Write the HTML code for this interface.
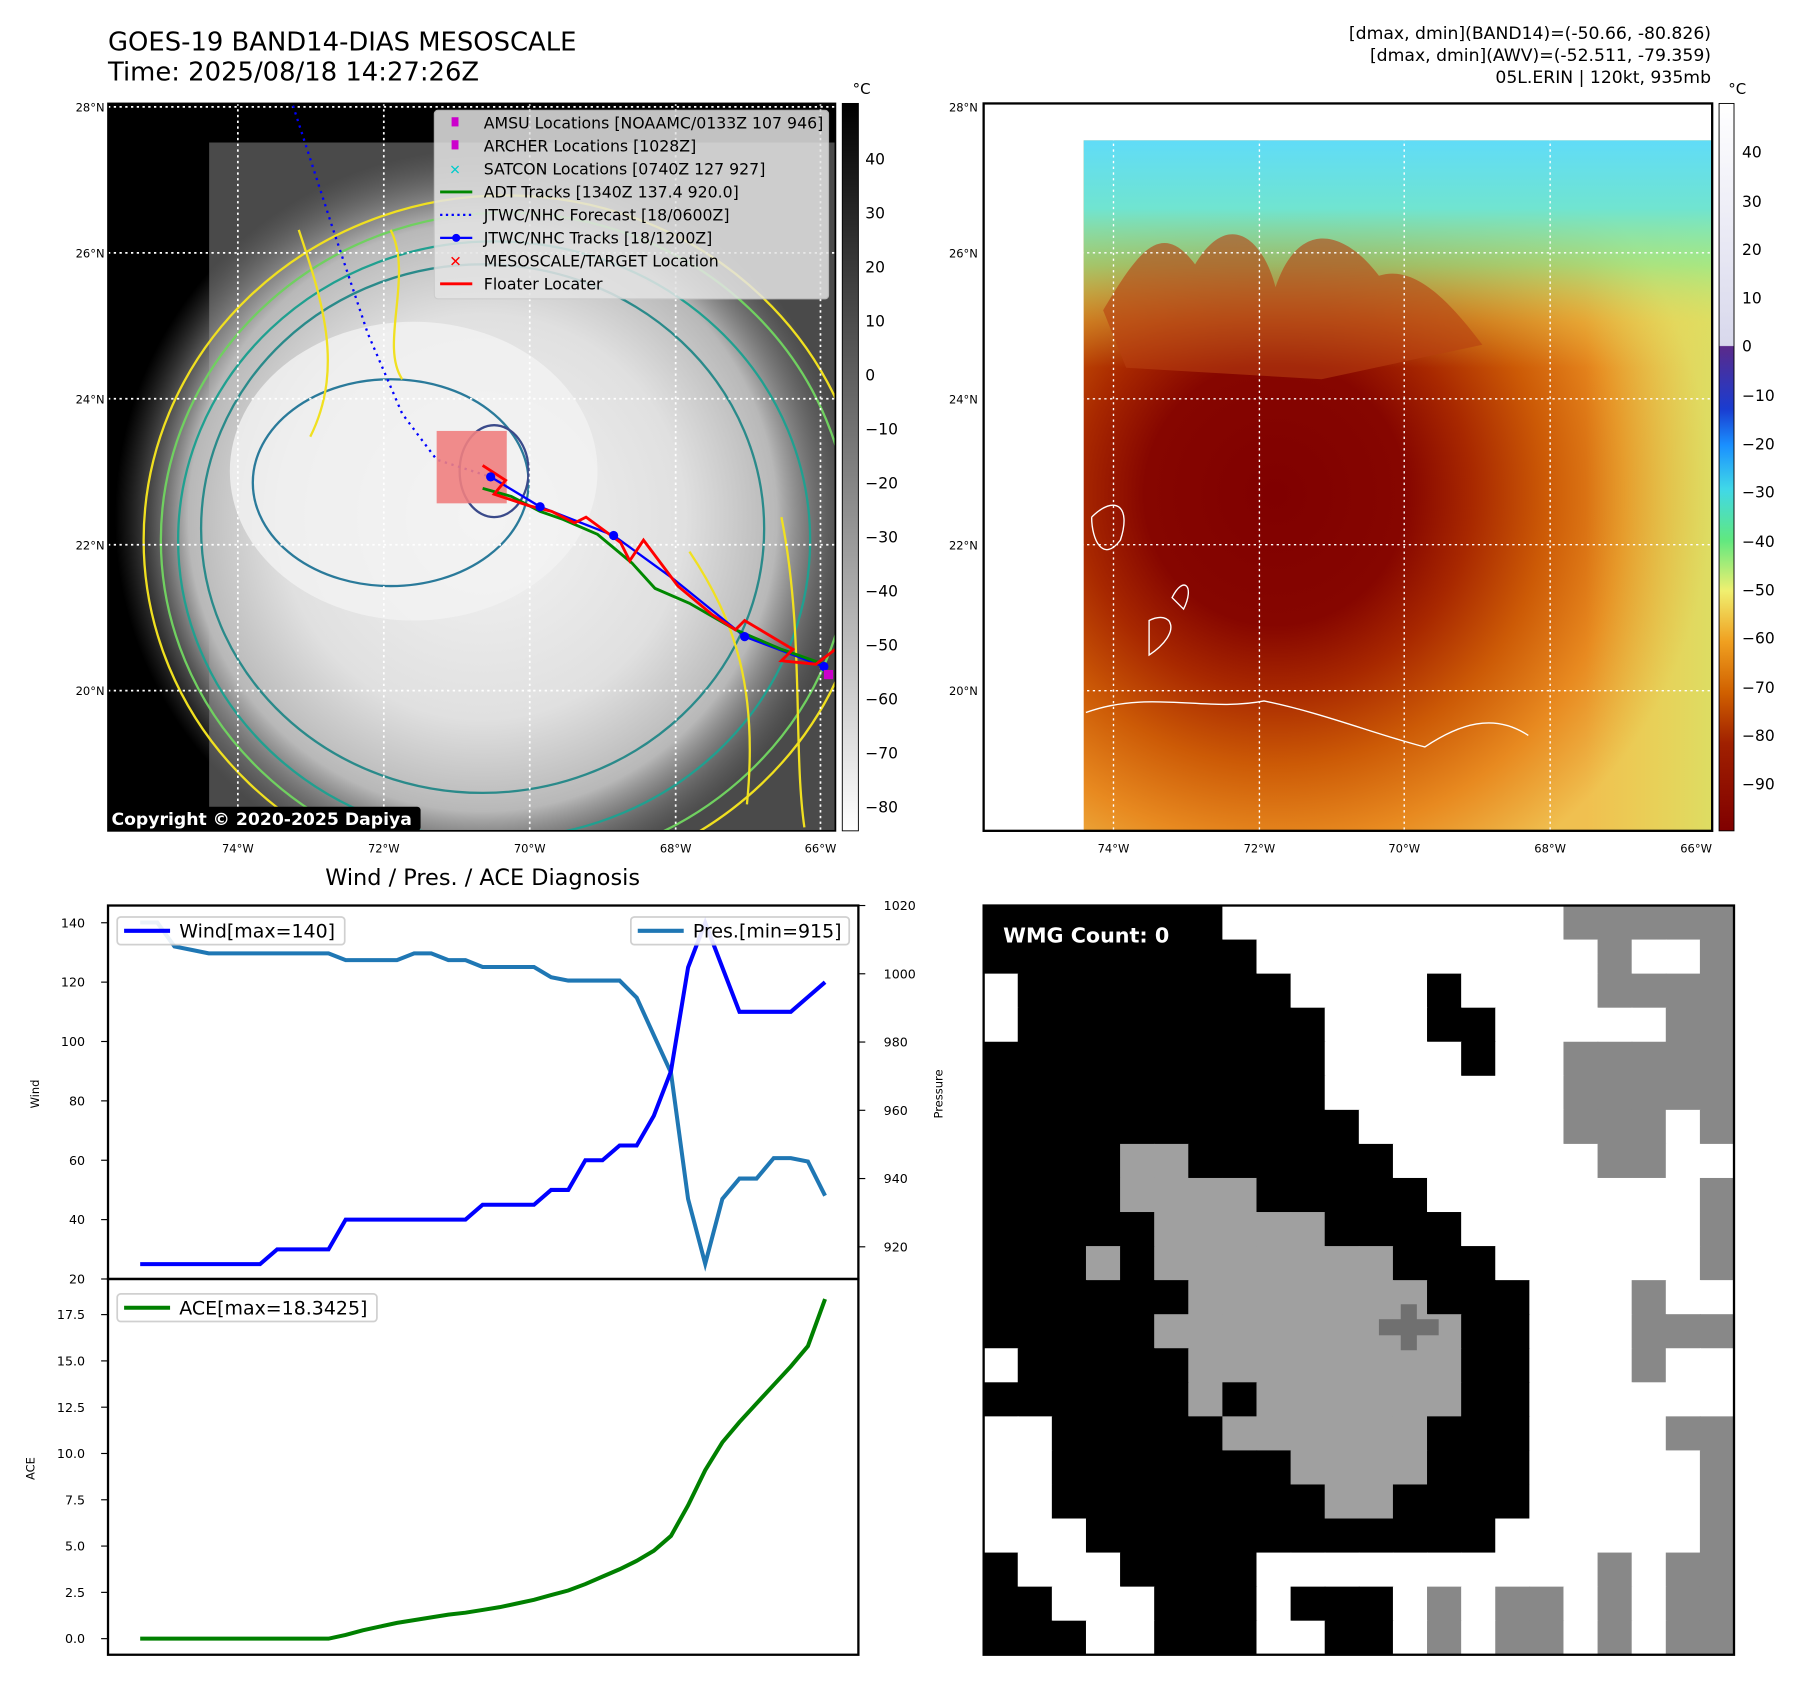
<!DOCTYPE html>
<html><head><meta charset="utf-8"><style>
html,body{margin:0;padding:0;background:#fff;}
svg{display:block;font-family:"DejaVu Sans","Liberation Sans",sans-serif;}
</style></head><body>
<svg id="fig" width="1801" height="1692" viewBox="0 0 1567.3 1472.4">
<defs>
<radialGradient id="cloud" cx="0.5" cy="0.5" r="0.5">
<stop offset="0" stop-color="#f4f4f4"/><stop offset="0.55" stop-color="#e0e0e0"/><stop offset="0.8" stop-color="#b8b8b8"/><stop offset="1" stop-color="#777" stop-opacity="0"/>
</radialGradient>
<linearGradient id="bwbar" x1="0" y1="0" x2="0" y2="1"><stop offset="0" stop-color="#000"/><stop offset="1" stop-color="#fff"/></linearGradient>
<linearGradient id="colbar" x1="0" y1="0" x2="0" y2="1">
<stop offset="0" stop-color="#fff"/><stop offset="0.333" stop-color="#d8d8ec"/><stop offset="0.334" stop-color="#5a2a8a"/>
<stop offset="0.42" stop-color="#1a3cd0"/><stop offset="0.47" stop-color="#1a90ff"/><stop offset="0.53" stop-color="#40d8e8"/>
<stop offset="0.6" stop-color="#60e880"/><stop offset="0.67" stop-color="#f0f070"/><stop offset="0.74" stop-color="#f0a020"/>
<stop offset="0.81" stop-color="#d06000"/><stop offset="0.88" stop-color="#a02000"/><stop offset="1" stop-color="#800000"/>
</linearGradient>
<linearGradient id="skyg" gradientUnits="userSpaceOnUse" x1="0" y1="122" x2="0" y2="320">
<stop offset="0" stop-color="#60dcf8"/><stop offset="0.3" stop-color="#70e4d0"/><stop offset="0.55" stop-color="#90ec90" stop-opacity="0.7"/><stop offset="0.8" stop-color="#e0e060" stop-opacity="0.3"/><stop offset="1" stop-color="#e0e060" stop-opacity="0"/>
</linearGradient>
<radialGradient id="storm" gradientUnits="userSpaceOnUse" cx="1110" cy="430" r="380">
<stop offset="0" stop-color="#800000"/><stop offset="0.3" stop-color="#860600"/><stop offset="0.45" stop-color="#a82800"/><stop offset="0.62" stop-color="#cc5a06"/><stop offset="0.8" stop-color="#e88a20"/><stop offset="1" stop-color="#f0c050"/>
</radialGradient>
<linearGradient id="rightedge" gradientUnits="userSpaceOnUse" x1="1380" y1="0" x2="1490" y2="0">
<stop offset="0" stop-color="#e0f060" stop-opacity="0"/><stop offset="1" stop-color="#d0f070" stop-opacity="0.6"/>
</linearGradient>
<clipPath id="clipL"><rect x="94" y="90" width="633" height="633"/></clipPath>
<clipPath id="clipR"><rect x="943" y="122" width="547" height="601"/></clipPath>
</defs>

<text x="94" y="44" font-size="22.5">GOES-19 BAND14-DIAS MESOSCALE</text>
<text x="94" y="70" font-size="22.5">Time: 2025/08/18 14:27:26Z</text>
<g font-size="15" text-anchor="end">
<text x="1489" y="34">[dmax, dmin](BAND14)=(-50.66, -80.826)</text>
<text x="1489" y="53">[dmax, dmin](AWV)=(-52.511, -79.359)</text>
<text x="1489" y="72">05L.ERIN | 120kt, 935mb</text>
</g>

<g clip-path="url(#clipL)">
<rect x="94" y="90" width="633" height="633" fill="#000"/>
<rect x="182" y="124" width="545" height="599" fill="#4a4a4a"/>
<ellipse cx="420" cy="450" rx="320" ry="320" fill="url(#cloud)"/>
<ellipse cx="360" cy="410" rx="160" ry="130" fill="#f2f2f2" opacity="0.8"/>
<g fill="none" stroke-width="2">
<ellipse cx="420" cy="460" rx="245" ry="230" stroke="#2a8a8a"/>
<ellipse cx="430" cy="470" rx="275" ry="260" stroke="#20a090"/>
<ellipse cx="440" cy="470" rx="300" ry="285" stroke="#70d060"/>
<ellipse cx="440" cy="470" rx="315" ry="300" stroke="#f0e020"/>
<ellipse cx="340" cy="420" rx="120" ry="90" stroke="#2a7a9a"/>
<ellipse cx="430" cy="410" rx="30" ry="40" stroke="#3a4a8a"/>
<path d="M260 200 C280 260 300 320 270 380 M340 200 C360 240 330 300 350 330 M600 480 C640 540 660 600 650 700 M680 450 C700 550 690 650 700 720" stroke="#f0e020"/>
</g>
<g fill="none" stroke="#fff" stroke-dasharray="2,3" stroke-width="1.5">
<line x1="207" y1="90" x2="207" y2="723"/><line x1="334" y1="90" x2="334" y2="723"/><line x1="461" y1="90" x2="461" y2="723"/><line x1="588" y1="90" x2="588" y2="723"/><line x1="714" y1="90" x2="714" y2="723"/>
<line x1="94" y1="93" x2="727" y2="93"/><line x1="94" y1="220" x2="727" y2="220"/><line x1="94" y1="347" x2="727" y2="347"/><line x1="94" y1="474" x2="727" y2="474"/><line x1="94" y1="601" x2="727" y2="601"/>
</g>
<path d="M255 92 L290 200 L320 290 L350 360 L380 400 L427 415" fill="none" stroke="#00f" stroke-width="2" stroke-dasharray="2,4"/>
<rect x="380" y="375" width="61" height="63" fill="#f08080" opacity="0.9"/>
<polyline points="427,415 470,441 534,466 585,503 648,554 717,580" fill="none" stroke="#00f" stroke-width="2"/>
<polyline points="420,425 445,432 470,445 490,452 520,465 550,490 570,512 600,525 640,548 680,565 717,578" fill="none" stroke="#080" stroke-width="2.5"/>
<polyline points="420,405 440,418 430,430 460,440 480,445 500,455 510,450 540,472 548,488 560,470 590,510 620,535 640,548 648,540 690,565 680,575 710,578 727,565" fill="none" stroke="#f00" stroke-width="2.5"/>
<g fill="#00f"><circle cx="427" cy="415" r="4"/><circle cx="470" cy="441" r="4"/><circle cx="534" cy="466" r="4"/><circle cx="648" cy="554" r="4"/><circle cx="717" cy="580" r="4"/></g>
<rect x="717" y="583" width="8" height="8" fill="#c0c"/>
<g>
<rect x="378" y="96" width="343" height="164" rx="3" fill="#e4e4e4" opacity="0.85" stroke="#ccc"/>
<g font-size="13.7">
<rect x="393" y="102" width="6" height="8" fill="#c0c"/><text x="421" y="112">AMSU Locations [NOAAMC/0133Z 107 946]</text>
<rect x="393" y="122" width="6" height="8" fill="#c0c"/><text x="421" y="132">ARCHER Locations [1028Z]</text>
<text x="391" y="152" fill="#0cc" font-size="12">✕</text><text x="421" y="152">SATCON Locations [0740Z 127 927]</text>
<line x1="383" y1="167" x2="411" y2="167" stroke="#080" stroke-width="2.5"/><text x="421" y="172">ADT Tracks [1340Z 137.4 920.0]</text>
<line x1="383" y1="187" x2="411" y2="187" stroke="#00f" stroke-width="2" stroke-dasharray="2,3"/><text x="421" y="192">JTWC/NHC Forecast [18/0600Z]</text>
<line x1="383" y1="207" x2="411" y2="207" stroke="#00f" stroke-width="2"/><circle cx="397" cy="207" r="3.5" fill="#00f"/><text x="421" y="212">JTWC/NHC Tracks [18/1200Z]</text>
<text x="391" y="232" fill="#f00" font-size="13" font-weight="bold">✕</text><text x="421" y="232">MESOSCALE/TARGET Location</text>
<line x1="383" y1="247" x2="411" y2="247" stroke="#f00" stroke-width="2.5"/><text x="421" y="252">Floater Locater</text>
</g></g>
<rect x="94" y="702" width="272" height="21" rx="3" fill="#000"/>
<text x="97" y="718" font-size="15" font-weight="bold" fill="#fff">Copyright © 2020-2025 Dapiya</text>
</g>
<rect x="94" y="90" width="633" height="633" fill="none" stroke="#000" stroke-width="1.5"/>
<g font-size="10" text-anchor="end">
<text x="91" y="97">28°N</text><text x="91" y="224">26°N</text><text x="91" y="351">24°N</text><text x="91" y="478">22°N</text><text x="91" y="605">20°N</text></g>
<g font-size="10" text-anchor="middle">
<text x="207" y="742">74°W</text><text x="334" y="742">72°W</text><text x="461" y="742">70°W</text><text x="588" y="742">68°W</text><text x="714" y="742">66°W</text></g>
<rect x="733" y="90" width="14" height="633" fill="url(#bwbar)" stroke="#000" stroke-width="0.8"/>
<text x="742" y="82" font-size="13">°C</text>
<g font-size="13.5">
<text x="753" y="143">40</text><text x="753" y="190">30</text><text x="753" y="237">20</text><text x="753" y="284">10</text><text x="753" y="331">0</text><text x="753" y="378">−10</text><text x="753" y="425">−20</text><text x="753" y="472">−30</text><text x="753" y="519">−40</text><text x="753" y="566">−50</text><text x="753" y="613">−60</text><text x="753" y="660">−70</text><text x="753" y="707">−80</text></g>

<g>
<rect x="856" y="90" width="634" height="633" fill="#fff"/>
<g clip-path="url(#clipR)">
<rect x="943" y="122" width="547" height="601" fill="url(#storm)"/>
<rect x="943" y="122" width="547" height="601" fill="url(#rightedge)"/>
<rect x="943" y="122" width="547" height="220" fill="url(#skyg)"/>
<path d="M960 270 C990 220 1010 190 1040 230 C1070 180 1100 210 1110 250 C1130 190 1170 200 1200 240 C1230 230 1260 260 1290 300 L1150 330 L980 320 Z" fill="#b84010" opacity="0.6"/>
</g>
<g fill="none" stroke="#fff" stroke-dasharray="2,3" stroke-width="1.2">
<line x1="969" y1="90" x2="969" y2="723"/><line x1="1096" y1="90" x2="1096" y2="723"/><line x1="1222" y1="90" x2="1222" y2="723"/><line x1="1349" y1="90" x2="1349" y2="723"/>
<line x1="856" y1="93" x2="1490" y2="93"/><line x1="856" y1="220" x2="1490" y2="220"/><line x1="856" y1="347" x2="1490" y2="347"/><line x1="856" y1="474" x2="1490" y2="474"/><line x1="856" y1="601" x2="1490" y2="601"/></g>
<path d="M945 620 C1000 600 1050 620 1100 610 C1150 620 1200 640 1240 650 C1270 630 1300 620 1330 640" fill="none" stroke="#fff" stroke-width="1.2"/>
<path d="M950 450 C970 430 985 440 975 470 C960 490 950 470 950 450 M1020 520 C1030 500 1040 510 1030 530 Z M1000 540 C1020 530 1030 550 1000 570 Z" fill="none" stroke="#fff" stroke-width="1.2"/>
</g>
<rect x="856" y="90" width="634" height="633" fill="none" stroke="#000" stroke-width="2"/>
<g font-size="10" text-anchor="end"><text x="851" y="97">28°N</text><text x="851" y="224">26°N</text><text x="851" y="351">24°N</text><text x="851" y="478">22°N</text><text x="851" y="605">20°N</text></g>
<g font-size="10" text-anchor="middle"><text x="969" y="742">74°W</text><text x="1096" y="742">72°W</text><text x="1222" y="742">70°W</text><text x="1349" y="742">68°W</text><text x="1476" y="742">66°W</text></g>
<rect x="1496" y="90" width="13" height="633" fill="url(#colbar)" stroke="#000" stroke-width="0.8"/>
<text x="1504" y="82" font-size="13">°C</text>
<g font-size="13.5"><text x="1516" y="137">40</text><text x="1516" y="180">30</text><text x="1516" y="222">20</text><text x="1516" y="264">10</text><text x="1516" y="306">0</text><text x="1516" y="349">−10</text><text x="1516" y="391">−20</text><text x="1516" y="433">−30</text><text x="1516" y="476">−40</text><text x="1516" y="518">−50</text><text x="1516" y="560">−60</text><text x="1516" y="603">−70</text><text x="1516" y="645">−80</text><text x="1516" y="687">−90</text></g>

<text x="420" y="770" font-size="19.5" text-anchor="middle">Wind / Pres. / ACE Diagnosis</text>
<g id="diag"></g>
<g id="wmg"></g>
</svg>
<script>
const wind=[25,25,25,25,25,25,25,25,30,30,30,30,40,40,40,40,40,40,40,40,45,45,45,45,50,50,60,60,65,65,75,90,125,140,125,110,110,110,110,115,120];
const pres=[1015,1015,1008,1007,1006,1006,1006,1006,1006,1006,1006,1006,1004,1004,1004,1004,1006,1006,1004,1004,1002,1002,1002,1002,999,998,998,998,998,993,982,971,934,915,934,940,940,946,946,945,935];
const ace=[0,0,0,0,0,0,0,0,0,0,0,0,0.2,0.45,0.65,0.85,1.0,1.15,1.3,1.4,1.55,1.7,1.9,2.1,2.35,2.6,2.95,3.35,3.75,4.2,4.75,5.55,7.2,9.1,10.6,11.7,12.7,13.7,14.7,15.8,18.34];
const windTicks=[20,40,60,80,100,120,140];
const presTicks=[920,940,960,980,1000,1020];
const aceTicks=[0,2.5,5,7.5,10,12.5,15,17.5];
const NS='http://www.w3.org/2000/svg';
const g=document.getElementById('diag');
function el(t,a,p){const e=document.createElementNS(NS,t);for(const k in a)e.setAttribute(k,a[k]);(p||g).appendChild(e);return e;}
const X0=122,X1=718;
function xs(i){return X0+(X1-X0)*i/(wind.length-1);}
function yW(v){return 1113-(v-20)*(310/120);}
function yP(v){return 1085-(v-920)*(297/100);}
function yA(v){return 1426-v*(282/17.5);}
function line(arr,fy,col,w,name){const pts=arr.map((v,i)=>xs(i).toFixed(1)+','+fy(v).toFixed(1)).join(' ');
const p=el('polyline',{points:pts,fill:'none',stroke:col,'stroke-width':w});

}
let f=el('rect',{x:94,y:788,width:653,height:325,fill:'none',stroke:'#000','stroke-width':2});


f=el('rect',{x:94,y:1113,width:653,height:327,fill:'none',stroke:'#000','stroke-width':2});


windTicks.forEach(v=>{const y=yW(v);el('line',{x1:88,x2:94,y1:y,y2:y,stroke:'#000'});const t=el('text',{x:74,y:y+4,'font-size':11,'text-anchor':'end'});t.textContent=v;

});
presTicks.forEach(v=>{const y=yP(v);el('line',{x1:747,x2:753,y1:y,y2:y,stroke:'#000'});const t=el('text',{x:769,y:y+4,'font-size':11});t.textContent=v;

});
aceTicks.forEach(v=>{const y=yA(v);el('line',{x1:88,x2:94,y1:y,y2:y,stroke:'#000'});const t=el('text',{x:74,y:y+4,'font-size':11,'text-anchor':'end'});t.textContent=v.toFixed(1);

});
let t=el('text',{x:34,y:952,'font-size':10,'text-anchor':'middle',transform:'rotate(-90 34 952)'});t.textContent='Wind';
t=el('text',{x:820,y:952,'font-size':10,'text-anchor':'middle',transform:'rotate(-90 820 952)'});t.textContent='Pressure';
t=el('text',{x:30,y:1278,'font-size':10,'text-anchor':'middle',transform:'rotate(-90 30 1278)'});t.textContent='ACE';
line(pres,yP,'#1f77b4',3.5,'pressure-line');
line(wind,yW,'#0000ff',3.5,'wind-line');
line(ace,yA,'#008000',3.5,'ace-line');
function leg(x,y,w,col,txt,name){const r=el('rect',{x:x,y:y,width:w,height:24,rx:3,fill:'#fff',stroke:'#ccc','stroke-width':1.5,opacity:0.9});


el('line',{x1:x+6,x2:x+46,y1:y+12,y2:y+12,stroke:col,'stroke-width':3.5});const tt=el('text',{x:x+54,y:y+18,'font-size':16.5});tt.textContent=txt;}
leg(102,798,198,'#0000ff','Wind[max=140]','wind-legend');
leg(549,798,190,'#1f77b4','Pres.[min=915]','pressure-legend');
leg(102,1126,226,'#008000','ACE[max=18.3425]','ace-legend');
const wmgRows=[
"KKKKKKKWWWWWWWWWWGGGGG","KKKKKKKKWWWWWWWWWWGWWG","WKKKKKKKKWWWWKWWWWGGGG","WKKKKKKKKKWWWKKWWWWWGG",
"KKKKKKKKKKWWWWKWWGGGGG","KKKKKKKKKKWWWWWWWGGGGG","KKKKKKKKKKKWWWWWWGGGWG","KKKKLLKKKKKKWWWWWWGGWW",
"KKKKLLLLKKKKKWWWWWWWWG","KKKKKLLLLLKKKKWWWWWWWG","KKKLKLLLLLLLKKKWWWWWWG","KKKKKKLLLLLLLKKKWWWGWW",
"KKKKKLLLLLLLLLKKWWWGGG","WKKKKKLLLLLLLLKKWWWGWW","KKKKKKLKLLLLLLKKWWWWWW","WWKKKKKLLLLLLKKKWWWWGG",
"WWKKKKKKKLLLLKKKWWWWWG","WWKKKKKKKKLLKKKKWWWWWG","WWWKKKKKKKKKKKKWWWWWWG","KWWWKKKKWWWWWWWWWWGWGG",
"KKWWWKKKWKKKWGWGGWGWGG","KKKWWKKKWWKKWGWGGWGWGG"];
const W=document.getElementById('wmg');
const cols={K:'#000',W:'#fff',L:'#a0a0a0',G:'#888'};
const cw=653/22,ch=652/22;
wmgRows.forEach((row,r)=>{[...row].forEach((c,k)=>{el('rect',{x:(856+k*cw).toFixed(2),y:(788+r*ch).toFixed(2),width:(cw+0.6).toFixed(2),height:(ch+0.6).toFixed(2),fill:cols[c]},W);});});
el('rect',{x:1200,y:1148,width:52,height:14,fill:'#707070'},W);
el('rect',{x:1219,y:1135,width:14,height:40,fill:'#707070'},W);
el('rect',{x:856,y:788,width:653,height:652,fill:'none',stroke:'#000','stroke-width':2},W);
el('rect',{x:866,y:798,width:162,height:30,rx:4,fill:'#000'},W);
const wt=el('text',{x:873,y:820,'font-size':18,'font-weight':'bold',fill:'#fff'},W);wt.textContent='WMG Count: 0';


</script>
</body></html>
